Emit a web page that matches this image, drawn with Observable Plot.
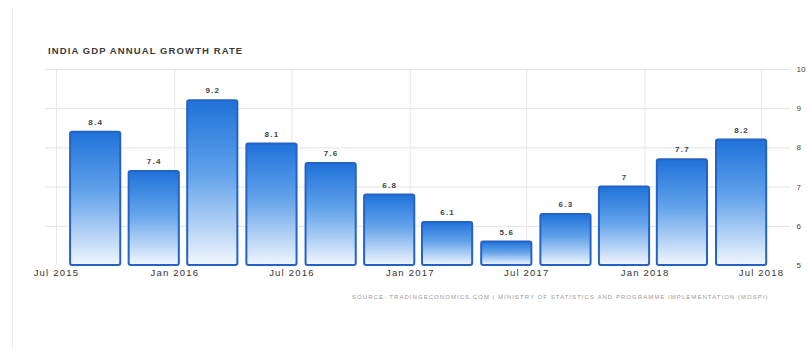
<!DOCTYPE html>
<html>
<head>
<meta charset="utf-8">
<script src="https://cdn.jsdelivr.net/npm/d3@7"></script>
<script src="https://cdn.jsdelivr.net/npm/@observablehq/plot@0.6"></script>
<style>
  html, body { margin: 0; padding: 0; background: #fff; }
  #wrap { position: relative; width: 807px; height: 350px; overflow: hidden; font-family: "Liberation Sans", Arial, sans-serif; }
  #frame { position: absolute; left: 12px; top: 8px; width: 1px; height: 342px; background: #f0f0f0; }
  #head { position: relative; height: 60px; }
  #title { position: absolute; left: 48px; top: 45px; font-size: 9.5px; font-weight: 600; letter-spacing: 1.1px; color: #3a3a3a; white-space: nowrap; }
  #chart svg { display: block; }
  #source { padding-top: 4px; padding-left: 352px; font-size: 6px; letter-spacing: 1.05px; color: #9a9a9a; white-space: nowrap; }
</style>
</head>
<body>
<div id="wrap">
  <div id="frame"></div>
  <div id="head"><div id="title">INDIA GDP ANNUAL GROWTH RATE</div></div>
  <div id="chart"></div>
  <div id="source">SOURCE: TRADINGECONOMICS.COM | MINISTRY OF STATISTICS AND PROGRAMME IMPLEMENTATION (MOSPI)</div>
</div>
<script>
// ---- data ----
const quarters = ["2015-08-31","2015-11-30","2016-02-29","2016-05-31","2016-08-31","2016-11-30",
                  "2017-02-28","2017-05-31","2017-08-31","2017-11-30","2018-02-28","2018-05-31"];
const growth = [8.4, 7.4, 9.2, 8.1, 7.6, 6.8, 6.1, 5.6, 6.3, 7, 7.7, 8.2];
const valueLabels = ["8.4","7.4","9.2","8.1","7.6","6.8","6.1","5.6","6.3","7","7.7","8.2"];
const xTicks = ["2015-07-01","2016-01-01","2016-07-01","2017-01-01","2017-07-01","2018-01-01","2018-07-01"];
const yTicks = [5, 6, 7, 8, 9, 10];

const parse = d3.utcParse("%Y-%m-%d");
const rows = quarters.map((q, i) => ({date: parse(q), value: growth[i], label: valueLabels[i]}));
const xTickDates = xTicks.map(parse);
const halfDays = 39;

const plot = Plot.plot({
  width: 807,
  height: 230,
  marginLeft: 45,
  marginRight: 17,
  marginTop: 9,
  marginBottom: 25,
  style: {fontFamily: "Liberation Sans, Arial, sans-serif", fontSize: "9px", color: "#444", background: "transparent"},
  x: {type: "utc", domain: [parse("2015-06-14"), parse("2018-08-15")], label: null},
  y: {domain: [5, 10], label: null},
  marks: [
    Plot.gridY(yTicks.filter(v => v > 5), {stroke: "#e2e2e2", strokeOpacity: 1}),
    Plot.gridX(xTickDates, {stroke: "#e8e8e8", strokeOpacity: 1}),
    Plot.rectY(rows, {
      x1: d => d3.utcDay.offset(d.date, -halfDays),
      x2: d => d3.utcDay.offset(d.date, halfDays),
      y1: 5,
      y2: "value",
      fill: "url(#barGrad)",
      stroke: "#2463c4",
      strokeWidth: 2,
      rx: 2
    }),
    Plot.text(rows, {x: "date", y: "value", text: "label", dy: -10, fill: "#444", fontWeight: "bold", fontSize: 8, className: "wide"}),
    Plot.axisX(xTickDates, {tickSize: 0, tickPadding: 4, tickFormat: d3.utcFormat("%b %Y"), fill: "#333", fontSize: 9.5, label: null, className: "wide"}),
    Plot.axisY(yTicks, {anchor: "right", tickSize: 0, tickPadding: 6, fill: "#444", fontSize: 8, label: null})
  ]
});

const ns = "http://www.w3.org/2000/svg";
const defs = document.createElementNS(ns, "defs");
defs.innerHTML = `<linearGradient id="barGrad" x1="0" y1="0" x2="0" y2="1">
  <stop offset="0" stop-color="#1f72da"/>
  <stop offset="0.45" stop-color="#62a2ea"/>
  <stop offset="1" stop-color="#f1f6fe"/>
</linearGradient>`;
plot.insertBefore(defs, plot.firstChild);
// widen text slightly like the reference (not the right-hand y labels)
plot.querySelectorAll(".wide text").forEach(t => t.setAttribute("letter-spacing", "1.2"));
document.getElementById("chart").appendChild(plot);
</script>
</body>
</html>
